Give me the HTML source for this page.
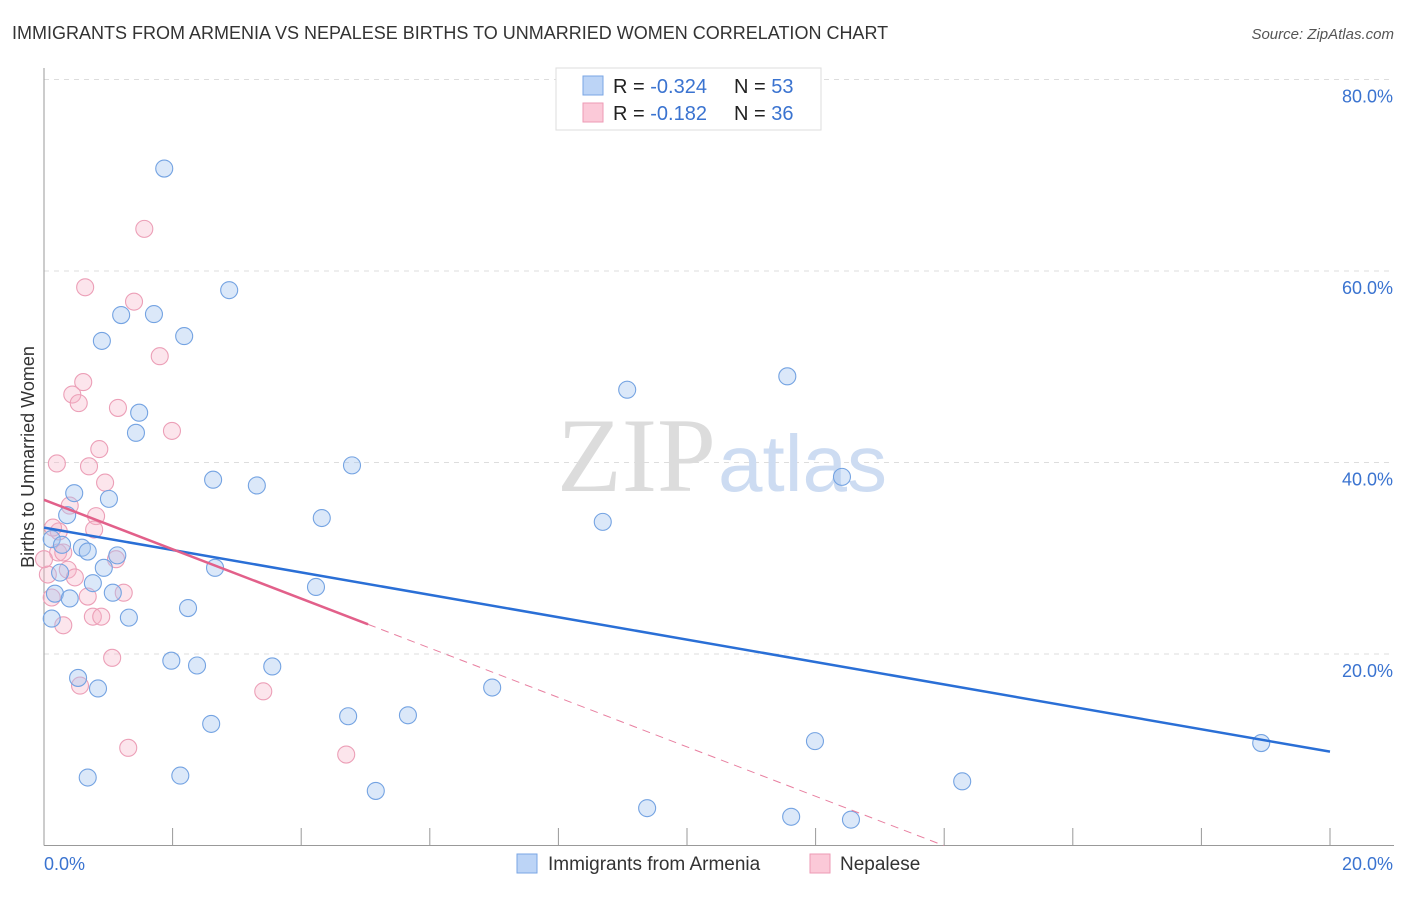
<!DOCTYPE html>
<html><head><meta charset="utf-8"><style>
body{margin:0;background:#fff;font-family:"Liberation Sans",sans-serif}
svg text{font-family:"Liberation Sans",sans-serif}
</style></head><body>
<svg id="chart" width="1406" height="892" xmlns="http://www.w3.org/2000/svg">
<text x="12" y="39" font-size="18" fill="#333">IMMIGRANTS FROM ARMENIA VS NEPALESE BIRTHS TO UNMARRIED WOMEN CORRELATION CHART</text>
<text x="1394" y="39" font-size="15" font-style="italic" fill="#555" text-anchor="end">Source: ZipAtlas.com</text>
<text x="34" y="457" font-size="18" fill="#333" text-anchor="middle" transform="rotate(-90 34 457)">Births to Unmarried Women</text>
<g id="grid"></g>
<text x="716" y="491" font-size="106" fill="#dcdcdc" text-anchor="end" style="font-family:'Liberation Serif',serif">ZIP</text>
<text x="718" y="491" font-size="80" fill="#cddcf2">atlas</text>
<g id="axes"></g>
<g id="marks"></g>
<g id="trends"></g>
<g>
<rect x="556" y="68" width="265" height="62" fill="#fff" stroke="#ddd"/>
<rect x="583" y="76" width="20" height="19" fill="#bcd4f6" stroke="#7aa6e4"/>
<rect x="583" y="103" width="20" height="19" fill="#fbc9d8" stroke="#ee9ab5"/>
<text x="613" y="93" font-size="20" fill="#222">R = <tspan fill="#3a73d0"> -0.324</tspan></text>
<text x="734" y="93" font-size="20" fill="#222">N = <tspan fill="#3a73d0">53</tspan></text>
<text x="613" y="120" font-size="20" fill="#222">R = <tspan fill="#3a73d0">  -0.182</tspan></text>
<text x="734" y="120" font-size="20" fill="#222">N = <tspan fill="#3a73d0">36</tspan></text>
</g>
<g>
<rect x="517" y="854" width="20" height="19" fill="#bcd4f6" stroke="#7aa6e4"/>
<text x="548" y="870" font-size="19" fill="#333">Immigrants from Armenia</text>
<rect x="810" y="854" width="20" height="19" fill="#fbc9d8" stroke="#ee9ab5"/>
<text x="840" y="870" font-size="19" fill="#333">Nepalese</text>
</g>
</svg>
<script>
const armeniaX=[1.87,2.88,1.20,1.71,0.90,2.18,9.07,11.56,1.48,1.43,4.79,2.63,3.31,12.41,0.47,1.01,0.36,4.32,8.69,0.12,0.28,0.59,0.68,1.14,0.93,0.25,2.66,0.76,4.23,0.17,0.40,1.07,2.24,0.12,1.32,1.98,2.38,3.55,0.53,0.84,6.97,4.73,5.66,2.60,11.99,18.93,0.68,2.12,14.28,5.16,9.38,11.62,12.55];
const armeniaY=[70.7,58.0,55.4,55.5,52.7,53.2,47.6,49.0,45.2,43.1,39.7,38.2,37.6,38.5,36.8,36.2,34.5,34.2,33.8,32.0,31.4,31.1,30.7,30.3,29.0,28.5,29.0,27.4,27.0,26.3,25.8,26.4,24.8,23.7,23.8,19.3,18.8,18.7,17.5,16.4,16.5,13.5,13.6,12.7,10.9,10.7,7.1,7.3,6.7,5.7,3.9,3.0,2.7];
const nepalX=[1.56,0.64,1.40,1.80,0.61,0.44,0.54,1.15,1.99,0.86,0.20,0.70,0.95,0.40,0.81,0.78,0.23,0.22,0.30,1.12,0.37,0.06,0.48,0.68,0.12,1.24,0.30,0.76,0.89,1.06,0.56,3.41,1.31,4.70,0.14,0.0];
const nepalY=[64.4,58.3,56.8,51.1,48.4,47.1,46.2,45.7,43.3,41.4,39.9,39.6,37.9,35.5,34.4,33.0,32.8,30.6,30.6,29.9,28.8,28.3,28.0,26.0,25.9,26.4,23.0,23.9,23.9,19.6,16.7,16.1,10.2,9.5,33.2,29.9];
const armeniaTrend=[33.2,9.8];
const nepalTrend=[36.1,-2.58];
const nepalSolidEnd=5.04;
const xTicks=[0,2,4,6,8,10,12,14,16,18,20];
const yTicks=[20,40,60,80];
const NS='http://www.w3.org/2000/svg';
const X0=44,X1=1330,Y0=845.5,PY=9.575;
const sx=v=>X0+(X1-X0)*v/20;
const sy=v=>Y0-v*PY;
function mk(tag,attrs,parent){const e=document.createElementNS(NS,tag);for(const k in attrs)e.setAttribute(k,attrs[k]);parent.appendChild(e);return e;}
const grid=document.getElementById('grid'),axes=document.getElementById('axes'),marks=document.getElementById('marks'),trends=document.getElementById('trends');
yTicks.forEach(t=>{
 const l=mk('line',{x1:X0,x2:1394,y1:sy(t),y2:sy(t),stroke:'#ddd','stroke-dasharray':'5,5'},grid);
 
 
 const tx=mk('text',{x:1393,y:sy(t)+23,'font-size':18,fill:'#3a73d0','text-anchor':'end'},grid);
 tx.textContent=t.toFixed(1)+'%';
 
 
});
const ax=mk('line',{x1:X0,x2:1394,y1:Y0,y2:Y0,stroke:'#999'},axes);


const ay=mk('line',{x1:X0,x2:X0,y1:68,y2:Y0,stroke:'#999'},axes);


xTicks.forEach(t=>{
 const l=mk('line',{x1:sx(t),x2:sx(t),y1:828,y2:Y0,stroke:'#999'},axes);
 
 
});
[[0,'start'],[20,'end']].forEach(([t,a])=>{
 const tx=mk('text',{x:t===0?X0:1393,y:870,'font-size':18,fill:'#3a73d0','text-anchor':a},axes);
 tx.textContent=t.toFixed(1)+'%';
 
 
});
function dots(xs,ys,fill,stroke,name){
 xs.forEach((x,i)=>{
  const c=mk('circle',{cx:sx(x),cy:sy(ys[i]),r:8.5,fill:fill,stroke:stroke,'stroke-width':1.1},marks);
  
  
 });
}
dots(nepalX,nepalY,'rgba(246,180,200,0.35)','#ec9fb7','nepalese-point');
dots(armeniaX,armeniaY,'rgba(165,198,240,0.4)','#74a3e2','armenia-point');
const bl=mk('line',{x1:sx(0),y1:sy(armeniaTrend[0]),x2:sx(20),y2:sy(armeniaTrend[1]),stroke:'#2a6fd6','stroke-width':2.5},trends);


const pz=-nepalTrend[0]/nepalTrend[1];
const pd=mk('line',{x1:sx(nepalSolidEnd),y1:sy(nepalTrend[0]+nepalTrend[1]*nepalSolidEnd),x2:sx(pz),y2:sy(0),stroke:'#e87fa0','stroke-width':1,'stroke-dasharray':'8,6'},trends);


const pl=mk('line',{x1:sx(0),y1:sy(nepalTrend[0]),x2:sx(nepalSolidEnd),y2:sy(nepalTrend[0]+nepalTrend[1]*nepalSolidEnd),stroke:'#e2608a','stroke-width':2.5},trends);


</script>
</body></html>
